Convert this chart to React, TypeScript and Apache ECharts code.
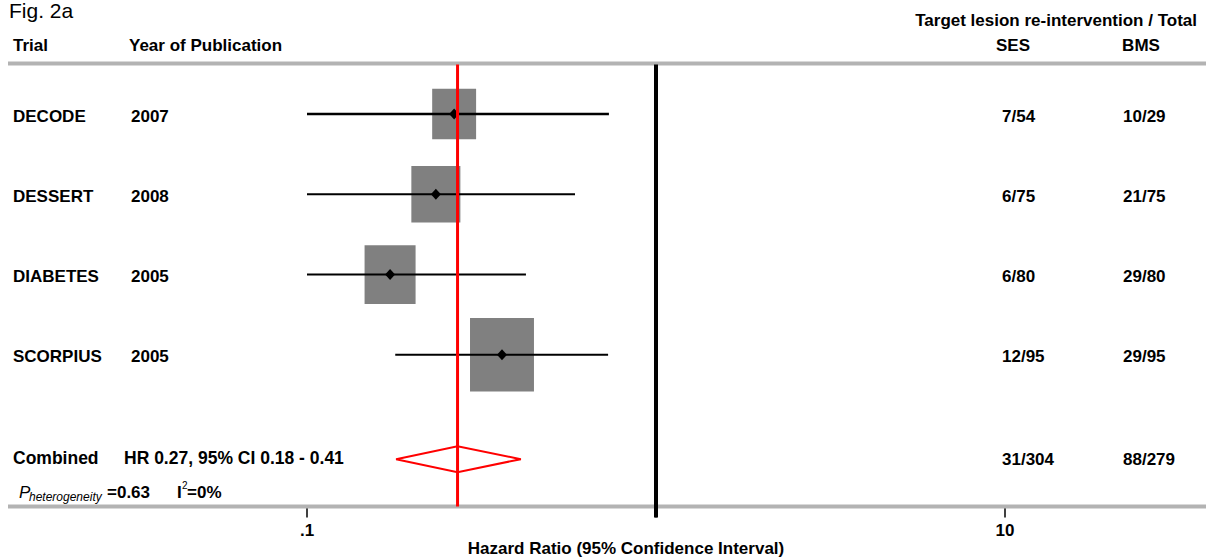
import React, { useEffect, useRef } from 'react';
import * as echarts from 'echarts';

// ---- data ----
const trials = ['DECODE', 'DESSERT', 'DIABETES', 'SCORPIUS'];
const years = ['2007', '2008', '2005', '2005'];
const hazardRatios = [0.264, 0.234, 0.173, 0.362];
const ciLow = [0.1, 0.1, 0.1, 0.179];
const ciHigh = [0.733, 0.586, 0.424, 0.729];
const weights = [17.5, 21.8, 23.6, 37.1]; // % study weight (box area)
const sesEvents = ['7/54', '6/75', '6/80', '12/95'];
const bmsEvents = ['10/29', '21/75', '29/80', '29/95'];
const rowPos = [1, 2, 3, 4];

const combinedLabel = 'Combined';
const combinedHR = 0.27;
const combinedLow = 0.18;
const combinedHigh = 0.41;
const combinedPos = 5.3;
const combinedSes = '31/304';
const combinedBms = '88/279';
const pHeterogeneity = '0.63';
const iSquared = '0%';

const xTicks = [0.1, 1, 10];
const xTickLabels = ['.1', '', '10'];

const FONT = '"Liberation Sans", Arial, Helvetica, sans-serif';

function txt(x: number, y: number, text: string, extra: any = {}) {
  return {
    type: 'text',
    x,
    y,
    silent: true,
    style: {
      text,
      fill: '#000',
      fontFamily: FONT,
      fontSize: 17,
      fontWeight: 'bold',
      align: 'left',
      verticalAlign: 'middle',
      ...extra,
    },
  };
}

const COL_NAME = 13;
const COL_YEAR = 131;
const COL_SES = 1002;
const COL_BMS = 1123;

export default function App() {
  const ref = useRef<HTMLDivElement>(null);

  useEffect(() => {
    if (!ref.current) return;
    const chart = echarts.init(ref.current, undefined, { renderer: 'svg' });

    const studyData = rowPos.map((p, i) => [hazardRatios[i], p, ciLow[i], ciHigh[i], weights[i]]);

    const option: any = {
      animation: false,
      backgroundColor: '#fff',
      grid: { left: 307, right: 206, top: 63.5, bottom: 51.5, containLabel: false },
      xAxis: {
        type: 'log',
        logBase: 10,
        min: 0.1,
        max: 10,
        axisLine: { show: false },
        splitLine: { show: false },
        axisTick: { show: true, length: 11, lineStyle: { color: '#000', width: 1.5 } },
        axisLabel: {
          show: true,
          margin: 15,
          fontFamily: FONT,
          fontSize: 17,
          fontWeight: 'bold',
          color: '#000',
          formatter: (v: number) => {
            let best = 0;
            xTicks.forEach((t, k) => {
              if (Math.abs(Math.log10(t) - Math.log10(v)) < Math.abs(Math.log10(xTicks[best]) - Math.log10(v))) best = k;
            });
            return xTickLabels[best];
          },
        },
      },
      yAxis: {
        type: 'value',
        inverse: true,
        min: 0.37,
        max: 5.89,
        show: false,
      },
      graphic: [
        { type: 'line', z: 1, shape: { x1: 8, y1: 63.5, x2: 1206, y2: 63.5 }, style: { stroke: '#b3b3b3', lineWidth: 4 } },
        { type: 'line', z: 1, shape: { x1: 8, y1: 506.5, x2: 1206, y2: 506.5 }, style: { stroke: '#b3b3b3', lineWidth: 4 } },
        txt(9, 0, 'Fig. 2a', { fontWeight: 'normal', fontSize: 21, verticalAlign: 'top' }),
        txt(COL_NAME, 45, 'Trial'),
        txt(129, 45, 'Year of Publication'),
        txt(1197, 20, 'Target lesion re-intervention / Total', { align: 'right' }),
        txt(1013, 45, 'SES', { align: 'center' }),
        txt(1141, 45, 'BMS', { align: 'center' }),
        txt(19, 492, 'P', { fontStyle: 'italic', fontWeight: 'normal' }),
        txt(29, 497, 'heterogeneity', { fontStyle: 'italic', fontWeight: 'normal', fontSize: 12 }),
        txt(107, 492, '=' + pHeterogeneity),
        txt(177, 492, 'I'),
        txt(182, 485, '2', { fontSize: 10, fontWeight: 'normal' }),
        txt(187, 492, '=' + iSquared),
        txt(626, 548, 'Hazard Ratio (95% Confidence Interval)', { align: 'center' }),
      ],
      series: [
        {
          type: 'custom',
          name: 'studies',
          z: 3,
          silent: true,
          clip: false,
          data: studyData,
          encode: { x: [0, 2, 3], y: 1 },
          renderItem: (params: any, api: any) => {
            const y = api.value(1);
            const [xp, yc] = api.coord([api.value(0), y]);
            const [xl] = api.coord([api.value(2), y]);
            const [xh] = api.coord([api.value(3), y]);
            const w = Math.sqrt(api.value(4) / 100) * 105;
            const h = w * 1.15;
            const lw = params.dataIndex === 0 ? 2.5 : 2;
            return {
              type: 'group',
              children: [
                { type: 'rect', shape: { x: xp - w / 2, y: yc - h / 2, width: w, height: h }, style: { fill: '#808080' } },
                { type: 'line', shape: { x1: xl, y1: yc, x2: xh, y2: yc }, style: { stroke: '#000', lineWidth: lw } },
                {
                  type: 'polygon',
                  shape: { points: [[xp - 5, yc], [xp, yc - 5.5], [xp + 5, yc], [xp, yc + 5.5]] },
                  style: { fill: '#000' },
                },
              ],
            };
          },
        },
        {
          type: 'custom',
          name: 'studyLabels',
          z: 3,
          silent: true,
          clip: false,
          data: rowPos.map((p) => [1, p]),
          encode: { x: 0, y: 1 },
          renderItem: (params: any, api: any) => {
            const i = params.dataIndex;
            const yc = api.coord([1, api.value(1)])[1] + 2;
            return {
              type: 'group',
              children: [
                txt(COL_NAME, yc, trials[i]),
                txt(COL_YEAR, yc, years[i]),
                txt(COL_SES, yc, sesEvents[i]),
                txt(COL_BMS, yc, bmsEvents[i]),
              ],
            };
          },
        },
        {
          type: 'custom',
          name: 'combined',
          z: 4,
          silent: true,
          clip: false,
          data: [[combinedHR, combinedPos, combinedLow, combinedHigh]],
          encode: { x: [0, 2, 3], y: 1 },
          renderItem: (params: any, api: any) => {
            const y = api.value(1);
            const [xp, yc] = api.coord([api.value(0), y]);
            const [xl] = api.coord([api.value(2), y]);
            const [xh] = api.coord([api.value(3), y]);
            return {
              type: 'group',
              children: [
                {
                  type: 'polygon',
                  shape: { points: [[xl, yc], [xp, yc - 13], [xh, yc], [xp, yc + 13]] },
                  style: { fill: 'none', stroke: '#ff0000', lineWidth: 2 },
                },
                txt(COL_NAME, yc - 1, combinedLabel, { fontSize: 17.5 }),
                txt(124, yc - 1, `HR ${combinedHR}, 95% CI ${combinedLow} - ${combinedHigh}`, { fontSize: 17.5 }),
                txt(COL_SES, yc, combinedSes),
                txt(COL_BMS, yc, combinedBms),
              ],
            };
          },
        },
        {
          type: 'custom',
          name: 'nullLine',
          z: 5,
          silent: true,
          clip: false,
          data: [[1, 1]],
          encode: { x: 0, y: 1 },
          renderItem: (params: any, api: any) => {
            const cs = params.coordSys;
            const x = api.coord([api.value(0), 1])[0];
            return {
              type: 'line',
              shape: { x1: x, y1: cs.y + 1, x2: x, y2: cs.y + cs.height + 11 },
              style: { stroke: '#000', lineWidth: 4 },
            };
          },
        },
        {
          type: 'custom',
          name: 'combinedLine',
          z: 6,
          silent: true,
          clip: false,
          data: [[combinedHR, 1]],
          encode: { x: 0, y: 1 },
          renderItem: (params: any, api: any) => {
            const cs = params.coordSys;
            const x = api.coord([api.value(0), 1])[0];
            return {
              type: 'line',
              shape: { x1: x, y1: cs.y + 1, x2: x, y2: cs.y + cs.height },
              style: { stroke: '#ff0000', lineWidth: 3 },
            };
          },
        },
      ],
    };

    chart.setOption(option);
    return () => {
      chart.dispose();
    };
  }, []);

  return (
    <div
      ref={ref}
      style={{ position: 'fixed', left: 0, top: 0, width: 1211, height: 558, background: '#fff' }}
    />
  );
}
